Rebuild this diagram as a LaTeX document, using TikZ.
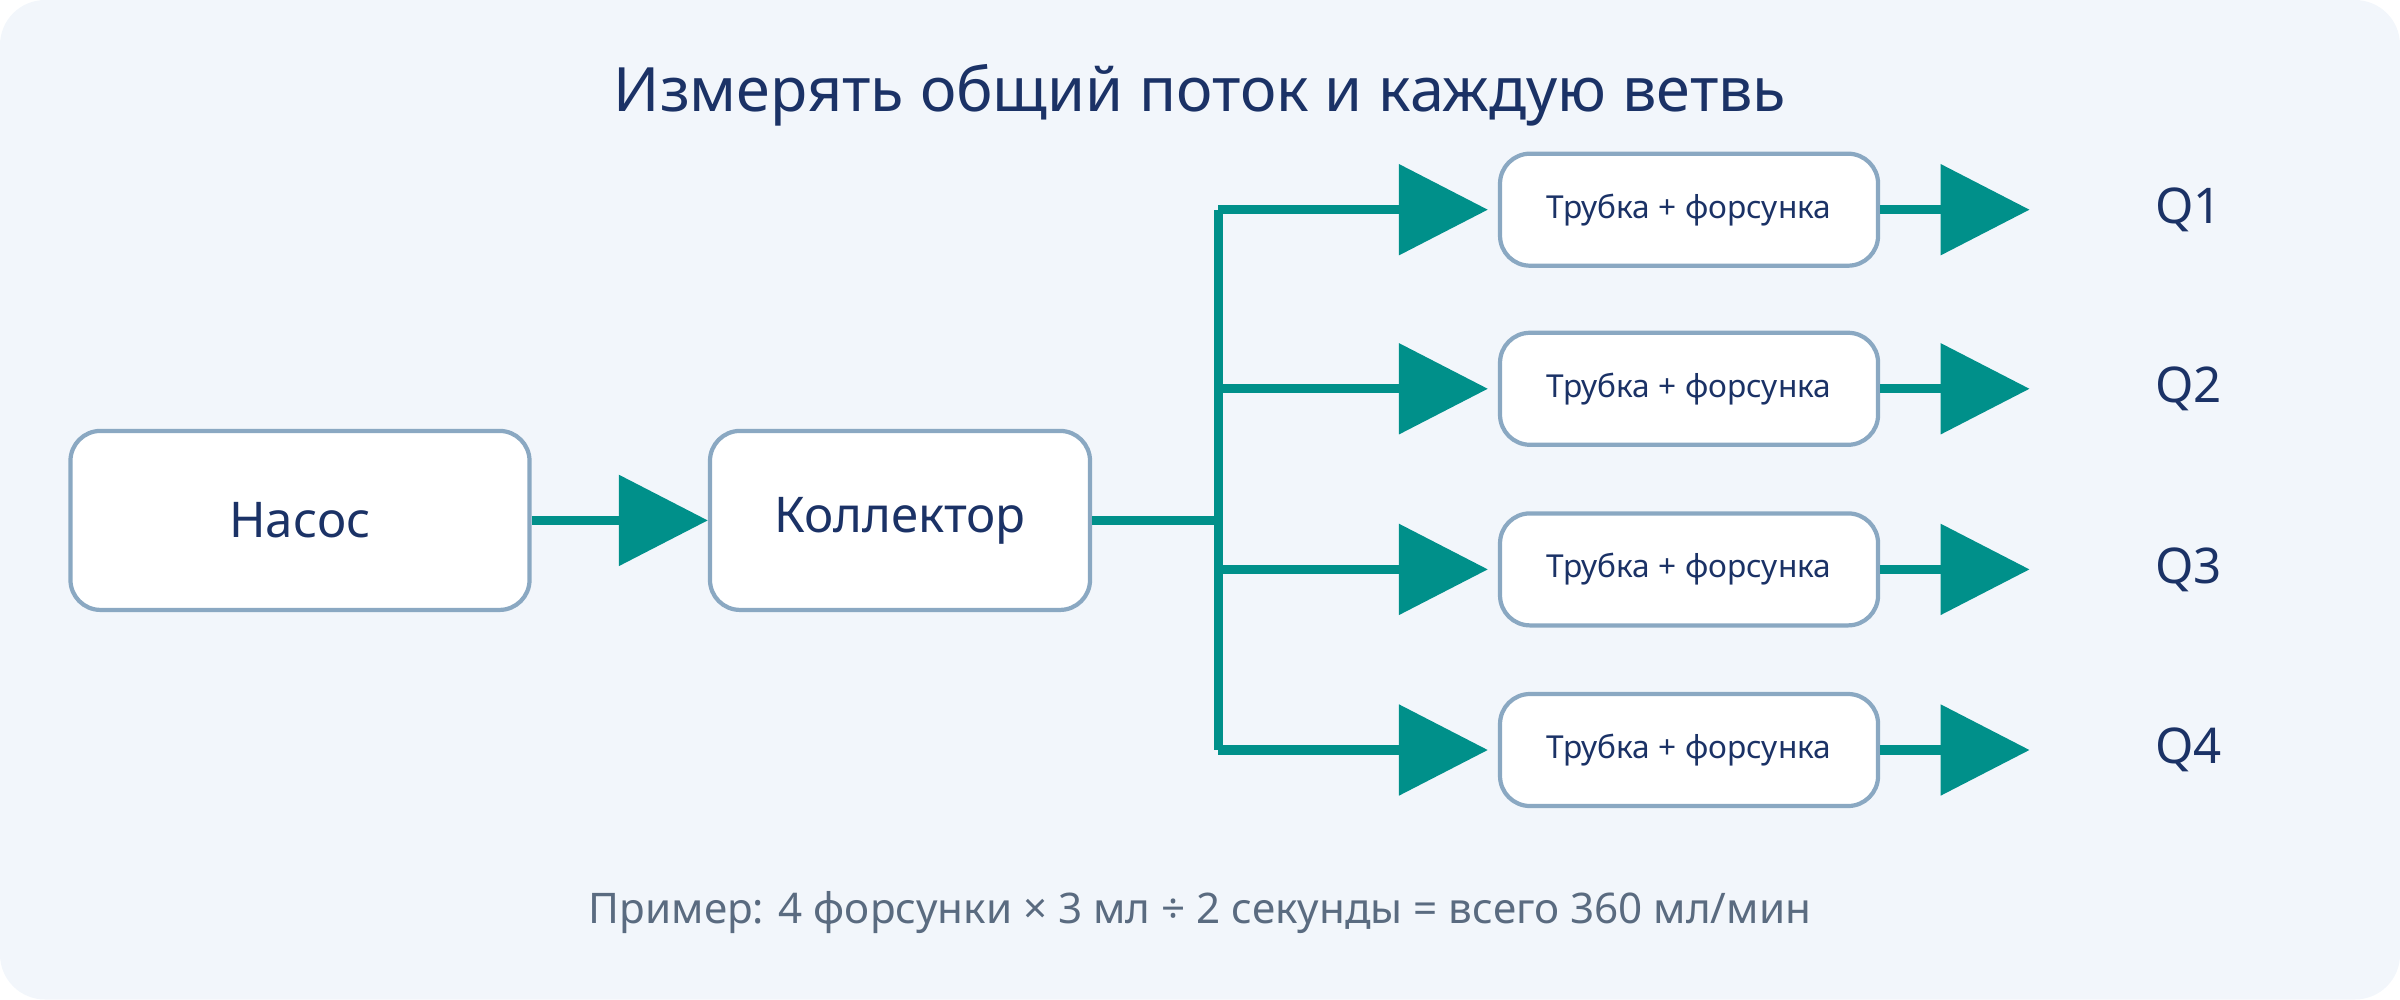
\documentclass[tikz,border=0pt]{standalone}
\usepackage{fontspec}
\setmainfont{Noto Sans}
\usetikzlibrary{arrows.meta}
\definecolor{bg}{HTML}{F2F6FB}
\definecolor{teal}{HTML}{00908A}
\definecolor{bd}{HTML}{8AA8C2}
\definecolor{navy}{HTML}{1B3266}
\definecolor{foot}{HTML}{5A6B80}
\begin{document}
\begin{tikzpicture}[x=0.01531cm,y=-0.01531cm,
  box/.style={draw=bd,line width=1.2pt,fill=white,rounded corners=0.3cm,text=navy,inner sep=0pt},
  big/.style={box,minimum height=1.79cm,font=\fontsize{14pt}{16pt}\selectfont},
  tube/.style={box,minimum width=3.78cm,minimum height=1.12cm,font=\fontsize{9pt}{11pt}\selectfont},
  con/.style={draw=teal,line width=2.6pt},
  arr/.style={con,-{Triangle[length=0.89cm,width=0.89cm]}},
  q/.style={text=navy,font=\fontsize{14pt}{16pt}\selectfont}]
\useasboundingbox (0,0) rectangle (1568,653);
\fill[bg,rounded corners=0.45cm] (0,0) rectangle (1568,653);
\node[text=navy,font=\fontsize{17.4pt}{20pt}\selectfont] (title) at (784,62) {Измерять общий поток и каждую ветвь};
\node[big,minimum width=4.59cm] (pump) at (196,340) {Насос};
\node[big,minimum width=3.8cm] (koll) at (588,340) {Коллектор};
\draw[arr] (pump.east) -- (koll.west);
\coordinate (bm) at (796,340);
\coordinate (btop) at (796,137);
\coordinate (bbot) at (796,490);
\draw[con] (koll.east) -- (bm);
\draw[con] (btop) -- (bbot);
\foreach \i/\y in {1/137,2/254,3/372,4/490}{
  \node[tube] (t\i) at (1103.5,\y) {\raisebox{-2pt}{Трубка + форсунка}};
  \coordinate (b\i) at (796,\y);
  \coordinate (o\i) at (1326,\y);
  \draw[arr,shorten >=0.1cm] (b\i) -- (t\i.west);
  \draw[arr] (t\i.east) -- (o\i);
  \node[q] (q\i) at (1430,\y) {Q\i};
}
\node[text=foot,font=\fontsize{12pt}{14pt}\selectfont] (foot) at (784,596) {Пример: 4 форсунки × 3 мл ÷ 2 секунды = всего 360 мл/мин};
\end{tikzpicture}
\end{document}
